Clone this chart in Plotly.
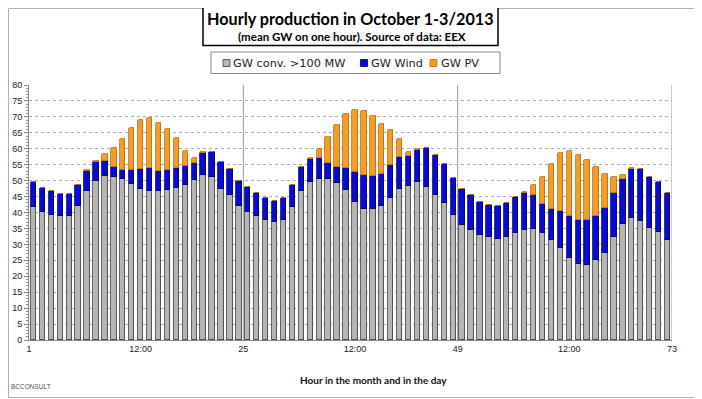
import plotly.graph_objects as go

# hourly data, October 1-3 2013 (GW)
hours = list(range(1, 73))
conv = [41.6, 40.3, 39.2, 38.8, 39.0, 42.0, 46.7, 50.0, 51.5, 51.2, 50.4, 49.0,
        47.3, 46.8, 46.8, 47.1, 47.8, 48.6, 50.3, 51.9, 51.0, 47.5, 45.4, 42.0,
        40.3, 39.0, 37.5, 36.9, 37.5, 41.6, 46.8, 49.7, 50.6, 50.4, 49.4, 47.1,
        43.4, 41.2, 41.2, 42.1, 44.7, 47.5, 48.4, 49.7, 48.1, 45.6, 43.1, 39.2,
        36.2, 34.5, 32.9, 32.2, 31.8, 32.4, 33.7, 34.6, 34.8, 33.7, 31.5, 28.8,
        25.7, 23.8, 23.6, 25.1, 27.3, 32.4, 36.5, 38.4, 37.3, 35.0, 34.0, 31.3]
wind = [7.9, 7.3, 7.4, 7.0, 6.8, 6.5, 6.4, 5.9, 4.8, 3.2, 2.8, 4.2,
        6.3, 7.2, 6.2, 6.1, 6.1, 6.1, 5.2, 6.8, 8.0, 8.2, 8.1, 7.9,
        7.6, 7.0, 7.2, 6.6, 6.9, 7.0, 7.6, 7.0, 6.5, 5.2, 4.9, 6.9,
        9.3, 10.6, 10.1, 10.1, 10.3, 9.8, 9.2, 10.0, 12.1, 12.4, 12.2, 11.7,
        11.3, 10.9, 10.4, 10.2, 10.1, 10.7, 11.1, 11.4, 10.7, 9.1, 9.6, 11.8,
        13.2, 14.0, 14.0, 13.8, 14.2, 13.8, 14.0, 15.2, 16.3, 16.1, 15.6, 14.8]
pv = [0, 0, 0, 0, 0, 0, 0.2, 0.3, 2.1, 5.8, 9.9, 13.2,
      15.4, 15.5, 15.0, 13.0, 9.4, 4.7, 1.5, 0.2, 0, 0, 0, 0,
      0, 0, 0, 0, 0, 0, 0, 0.3, 2.7, 8.1, 13.2, 16.8,
      19.4, 20.0, 19.0, 15.6, 11.0, 5.8, 1.3, 0.2, 0, 0, 0, 0,
      0, 0, 0, 0, 0, 0, 0, 0.3, 3.1, 8.4, 14.0, 18.1,
      20.3, 20.3, 18.9, 15.5, 10.6, 4.9, 1.3, 0.3, 0, 0, 0, 0]

series_names = ["GW conv. >100 MW", "GW Wind", "GW PV"]
series_colors = ["#b5b5b5", "#0a0ad0", "#f39c26"]
series_edges = ["#3c3c3c", "#00006a", "#b86e10"]

tick_vals = [1, 13.5, 25, 37.5, 49, 61.5, 73]
tick_text = ["1", "12:00", "25", "12:00", "49", "12:00", "73"]
day_lines = [25, 49, 73]

xpos = [h + 0.5 for h in hours]

# page offset of the figure (default body margin of the html page)
OFF = 8
W, H = 702 - OFF, 399 - OFF
# plot area in page pixels
L, R, T, B = 29, 672, 85, 340
def px(x):
    return (x - L) / (R - L)
def py(y):
    return (B - y) / (B - T)

fig = go.Figure()
for vals, name, col, edge in zip([conv, wind, pv], series_names, series_colors, series_edges):
    fig.add_bar(x=xpos, y=vals, name=name, width=0.6,
                marker=dict(color=col, line=dict(color=edge, width=0.8)))

shapes = []
for d in day_lines:
    shapes.append(dict(type="line", xref="x", yref="paper", x0=d, x1=d, y0=0, y1=1,
                       line=dict(color="#9a9a9a", width=1), layer="below"))
shapes.append(dict(type="rect", xref="paper", yref="paper",
                   x0=px(OFF + 0.5), x1=px(700.5), y0=py(397.5), y1=py(OFF + 0.5),
                   line=dict(color="#b0b0b0", width=1), layer="below"))

# title box
shapes.append(dict(type="rect", xref="paper", yref="paper",
                   x0=px(203), x1=px(498), y0=py(45.5), y1=py(6),
                   line=dict(color="#000000", width=1.5), fillcolor="white"))

# legend box (drawn manually to match the original compact layout)
shapes.append(dict(type="rect", xref="paper", yref="paper",
                   x0=px(211), x1=px(500), y0=py(73.5), y1=py(52),
                   line=dict(color="#8a8a8a", width=1), fillcolor="white"))
legend_marker_x = [223, 360.5, 430]
legend_text_x = [231, 368.5, 439]

annotations = [
    dict(text="<b>Hourly production in October 1-3/2013</b>",
         xref="paper", yref="paper", x=px(350.5), y=py(18.5), xanchor="center", yanchor="middle",
         showarrow=False, font=dict(family="Lato", size=16.2, color="#000000")),
    dict(text="<b>(mean GW on one hour). Source of data: EEX</b>",
         xref="paper", yref="paper", x=px(351.5), y=py(36.5), xanchor="center", yanchor="middle",
         showarrow=False, font=dict(family="Lato", size=11.5, color="#000000")),
    dict(text="<b>Hour in the month and in the day</b>", xref="paper", yref="paper",
         x=px(373), y=py(380), xanchor="center", yanchor="middle", showarrow=False,
         font=dict(family="Lato", size=10, color="#111111")),
    dict(text="BCCONSULT", xref="paper", yref="paper", x=px(9), y=py(386),
         xanchor="left", yanchor="middle", showarrow=False,
         font=dict(family="Liberation Sans", size=6.5, color="#555555")),
]
for name, col, edge, mx, tx in zip(series_names, series_colors, series_edges,
                                   legend_marker_x, legend_text_x):
    shapes.append(dict(type="rect", xref="paper", yref="paper",
                       x0=px(mx), x1=px(mx + 7), y0=py(66.5), y1=py(59.5),
                       line=dict(color=edge, width=0.8), fillcolor=col))
    annotations.append(dict(text=name, xref="paper", yref="paper", x=px(tx), y=py(63),
                            xanchor="left", yanchor="middle", showarrow=False,
                            font=dict(family="DejaVu Sans", size=11.3, color="#222222")))

fig.update_layout(
    width=W, height=H,
    margin=dict(l=L - OFF, r=W - (R - OFF), t=T - OFF, b=H - (B - OFF), autoexpand=False),
    barmode="stack", bargap=0,
    paper_bgcolor="white", plot_bgcolor="white",
    showlegend=False,
    shapes=shapes,
    annotations=annotations,
    xaxis=dict(range=[1, 73], tickmode="array", tickvals=tick_vals, ticktext=tick_text,
               showgrid=False, zeroline=False, showline=True, linecolor="#8a8a8a",
               ticks="", tickfont=dict(family="Liberation Sans", size=9, color="#222222")),
    yaxis=dict(range=[0, 80], dtick=5, showgrid=True, gridcolor="#ababab", griddash="dot",
               zeroline=False, showline=True, linecolor="#8a8a8a", ticks="outside",
               ticklen=4, tickcolor="#8a8a8a",
               minor=dict(dtick=1, ticks="outside", ticklen=2, tickcolor="#8a8a8a", showgrid=False),
               tickfont=dict(family="Liberation Sans", size=9, color="#222222")),
)

fig.write_html("out.html")
